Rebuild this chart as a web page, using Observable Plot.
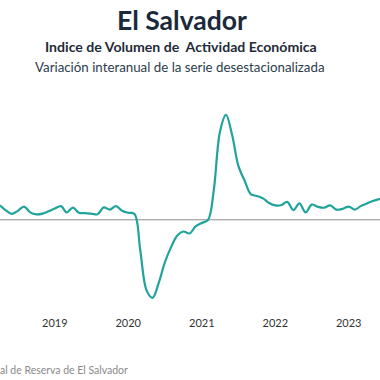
<!DOCTYPE html>
<html>
<head>
<meta charset="utf-8">
<script src="https://cdn.jsdelivr.net/npm/d3@7"></script>
<script src="https://cdn.jsdelivr.net/npm/@observablehq/plot@0.6"></script>
<style>
  html, body { margin: 0; padding: 0; background: #fff; overflow: hidden; }
  #wrap { position: relative; width: 380px; height: 380px; overflow: hidden; font-family: Lato, "DejaVu Sans", sans-serif; }
  .t { position: absolute; white-space: pre; line-height: 1; }
  #title { font-weight: 700; color: #1b2a3b; }
  #sub { font-weight: 700; color: #1f2b38; }
  #sub2 { font-weight: 400; color: #2d3d4d; }
  #cap { color: #8a8a8a; }
  #chart { position: absolute; left: 0; top: 84px; }
</style>
</head>
<body>
<div id="wrap">
  <div class="t" id="title">El Salvador</div>
  <div class="t" id="sub">Indice de Volumen de  Actividad Económica</div>
  <div class="t" id="sub2">Variación interanual de la serie desestacionalizada</div>
  <div id="chart"></div>
  <div class="t" id="cap">al de Reserva de El Salvador</div>
</div>
<script>
// Monthly dates, March 2018 .. July 2023
const startMonth = "2018-03-01";
const values = [
  4.2, 3.7, 2.5, 1.5, 2.3, 3.4, 1.9, 1.4, 1.6, 2.2,            // 2018-03 .. 2018-12
  2.9, 3.5, 1.9, 3.1, 1.8, 1.7, 1.6, 1.4, 3.2, 2.6, 3.5, 2.3, // 2019
  1.8, 1.5, -7.9, -18.1, -20.0, -16.1, -10.9, -7.0, -4.0, -3.0, -3.5, -1.7, // 2020
  -0.8, 0.0, 7.5, 22.6, 26.9, 21.6, 13.9, 10.1, 6.6, 6.1, 5.5, 4.3, // 2021
  3.7, 3.8, 4.6, 2.5, 4.2, 1.9, 3.9, 3.3, 3.1, 3.7, 2.6, 2.8, // 2022
  3.4, 2.6, 3.5, 4.2, 4.8, 5.3, 5.7                          // 2023
];
const tickYears = ["2019", "2020", "2021", "2022", "2023"];
const xDomain = ["2018-04-06", "2023-06-08"];
const yDomain = [-25, 30];

const start = new Date(startMonth + "T00:00:00Z");
const data = values.map((v, i) => ({ date: d3.utcMonth.offset(start, i), value: v }));
const ticks = tickYears.map(y => new Date(y + "-01-01T00:00:00Z"));

// fit text widths
function place(id, left, top, size, width) {
  const el = document.getElementById(id);
  el.style.fontSize = size + "px";
  el.style.left = left + "px";
  el.style.top = top + "px";
  if (width) {
    const w = el.getBoundingClientRect().width;
    const s = size * width / w;
    el.style.fontSize = s + "px";
  }
}
place("title", 117, 7, 25, 130);
place("sub", 45, 40, 13, 272);
place("sub2", 35, 61, 13, 290);
place("cap", 0, 365, 10, 128);

const plot = Plot.plot({
  width: 380,
  height: 270,
  marginLeft: 0,
  marginRight: 0,
  marginTop: 0,
  marginBottom: 38,
  style: { fontFamily: "Lato, 'DejaVu Sans', sans-serif", background: "transparent" },
  x: { type: "utc", domain: xDomain.map(d => new Date(d + "T00:00:00Z")) },
  y: { domain: yDomain, range: [232.8, 18.3], axis: null },
  marks: [
    Plot.ruleY([0], { stroke: "#8c8c8c", strokeWidth: 1 }),
    Plot.lineY(data, { x: "date", y: "value", stroke: "#1fa39b", strokeWidth: 2.2, curve: "catmull-rom", clip: true }),
    Plot.axisX({ ticks, tickSize: 0, tickPadding: 3, tickFormat: d3.utcFormat("%Y"), fontSize: 11, fill: "#333" })
  ]
});
document.getElementById("chart").appendChild(plot);
</script>
</body>
</html>
